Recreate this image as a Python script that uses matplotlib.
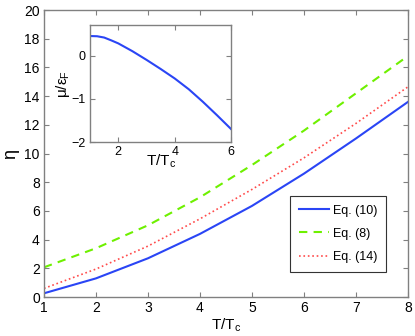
import numpy as np
import matplotlib
matplotlib.use('Agg')
import matplotlib.pyplot as plt

# dados
T = [1, 2, 3, 4, 5, 6, 7, 8]
eta_eq10 = [0.26, 1.3, 2.7, 4.4, 6.35, 8.6, 11.05, 13.6]
eta_eq8 = [2.07, 3.4, 5.0, 6.95, 9.2, 11.6, 14.2, 16.8]
eta_eq14 = [0.6, 1.95, 3.55, 5.45, 7.5, 9.7, 12.1, 14.65]

T_in = [1, 1.25, 1.5, 1.75, 2, 2.5, 3, 3.5, 4, 4.5, 5, 5.5, 6]
mu_in = [0.45, 0.445, 0.415, 0.35, 0.28, 0.10, -0.10, -0.31, -0.53, -0.78, -1.07, -1.38, -1.70]

plt.rcParams['font.family'] = ['Liberation Sans', 'DejaVu Sans']
plt.rcParams['mathtext.fontset'] = 'custom'
plt.rcParams['mathtext.rm'] = 'Liberation Sans'
plt.rcParams['mathtext.it'] = 'Liberation Sans'

azul = '#2a45f5'
verde = '#6ef000'
vermelho = '#ff4a4a'
cinza = '#808080'


def estilo(ax, fs):
    for s in ax.spines.values():
        s.set_color(cinza)
        s.set_linewidth(1.0)
    ax.tick_params(direction='in', top=True, right=True, color=cinza,
                   labelsize=fs, length=3.5, width=0.8, pad=3)


fig = plt.figure(figsize=(4.15, 3.36), dpi=100)
ax = fig.add_axes([0.106, 0.116, 0.877, 0.854])
ax.plot(T, eta_eq10, '-', color=azul, lw=1.5, label='Eq. (10)')
ax.plot(T, eta_eq8, '--', color=verde, lw=1.5, dashes=(4, 3), label='Eq. (8)')
ax.plot(T, eta_eq14, ':', color=vermelho, lw=1.2, label='Eq. (14)')
ax.set_xlim(1, 8)
ax.set_ylim(0, 20)
ax.set_xticks(range(1, 9))
ax.set_yticks(range(0, 21, 2))
estilo(ax, 10)
ax.set_xlabel('T/T$_\\mathrm{c}$', fontsize=11, labelpad=1)
ax.set_ylabel('η', fontsize=13, labelpad=4)
leg = ax.legend(loc='lower right', bbox_to_anchor=(0.956, 0.066), fontsize=9,
                fancybox=False, framealpha=1, edgecolor='#333333',
                handlelength=2.4, handletextpad=0.3, borderpad=0.7,
                labelspacing=0.9)
leg.get_frame().set_linewidth(0.8)

ins = fig.add_axes([0.217, 0.577, 0.340, 0.348])
ins.plot(T_in, mu_in, '-', color=azul, lw=1.5)
ins.set_xlim(1, 6)
ins.set_ylim(-2, 0.7)
ins.set_xticks([2, 4, 6])
ins.set_yticks([-2, -1, 0])
estilo(ins, 9)
ins.set_xlabel('T/T$_\\mathrm{c}$', fontsize=11, labelpad=-4)
ins.set_ylabel('μ/ε$_\\mathrm{F}$', fontsize=11, labelpad=0)

fig.savefig('out.png', dpi=100)
